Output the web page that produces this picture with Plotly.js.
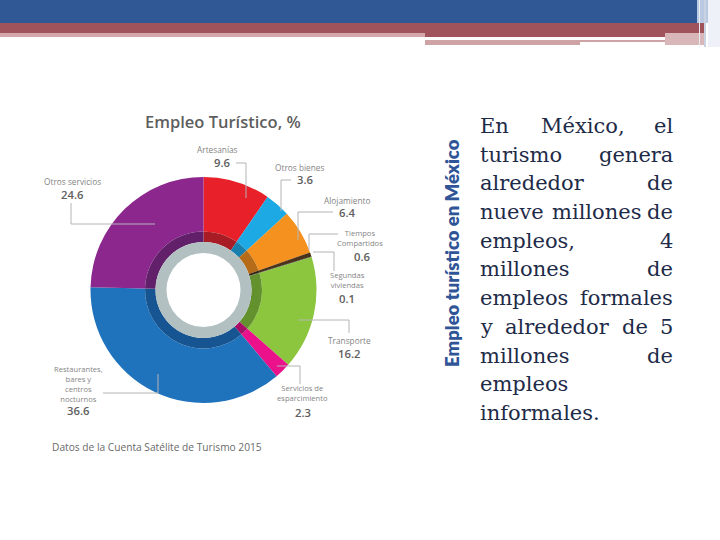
<!DOCTYPE html>
<html>
<head>
<meta charset="utf-8">
<script src="https://cdn.plot.ly/plotly-3.0.1.min.js"></script>
<style>html,body{margin:0;padding:0;background:#fff;}#chart{width:720px;height:540px;}</style>
</head>
<body>
<div id="chart"></div>
<script>
// ---- data ----
const categories = ['Artesanías', 'Otros bienes', 'Alojamiento', 'Tiempos Compartidos', 'Segundas viviendas', 'Transporte', 'Servicios de esparcimiento', 'Restaurantes, bares y centros nocturnos', 'Otros servicios'];
const values = [9.6, 3.6, 6.4, 0.6, 0.1, 16.2, 2.3, 36.6, 24.6];
const labelTexts = ['Artesanías', 'Otros bienes', 'Alojamiento', 'Tiempos<br>Compartidos', 'Segundas<br>viviendas', 'Transporte', 'Servicios de<br>esparcimiento', 'Restaurantes,<br>bares y<br>centros<br>nocturnos', 'Otros servicios'];
const chartTitle = 'Empleo Turístico, %';
const sourceNote = 'Datos de la Cuenta Satélite de Turismo 2015';
const sideTitle = 'Empleo turístico en México';
const paragraphLines = ['En México, el', 'turismo genera', 'alrededor de', 'nueve millones de', 'empleos, 4', 'millones de', 'empleos formales', 'y alrededor de 5', 'millones de', 'empleos', 'informales.'];

// ---- styles ----
const colors = ['#E8202A', '#1CA9E4', '#F5921F', '#4a3319', '#2a2a2a', '#8CC63F', '#EA118B', '#1F72BC', '#8C288D'];
const darkColors = ['#A81D25', '#1780AC', '#B56B17', '#35240f', '#222222', '#62912E', '#A80E66', '#175592', '#62206A'];

const W = 720, H = 540;
const X = p => p / W, Y = p => 1 - p / H;
const cx = 203.5, cy = 290, R = 113, Rd = 58.5, Rg = 48, Rw = 37;
const dom = r => ({x: [X(cx - r), X(cx + r)], y: [Y(cy + r), Y(cy - r)]});

// label placement (pixels): name block centre, number centre, leader polyline
const labelPos = [
  {name: [218, 149], num: [222, 163], lead: [[236, 163], [246, 163], [246, 198]]},
  {name: [299, 167], num: [305, 180], lead: [[291, 180], [281, 180], [281, 211]]},
  {name: [347, 200], num: [347, 213], lead: [[333, 212], [298, 212], [298, 240]]},
  {name: [360, 238], num: [362, 257], lead: [[338, 234], [309, 234], [309, 250]]},
  {name: [347, 280], num: [347, 298], lead: [[334, 271], [334, 252], [313, 252]]},
  {name: [349, 340], num: [349, 353], lead: [[349, 333], [349, 320], [298, 320]]},
  {name: [302, 393], num: [303, 412], lead: [[300, 384], [300, 366], [277, 366]]},
  {name: [78, 384], num: [78, 410], lead: [[103, 393], [158, 393], [158, 374]]},
  {name: [72, 181], num: [72, 194], lead: [[71, 203], [71, 224], [155, 224]]}
];

const traces = [
  {type: 'pie', values: values, labels: categories, sort: false, direction: 'clockwise', rotation: 0,
   hole: Rd / R, domain: dom(R), marker: {colors: colors, line: {width: 0}}, textinfo: 'none', hoverinfo: 'label+value'},
  {type: 'pie', values: values, labels: categories, sort: false, direction: 'clockwise', rotation: 0,
   hole: Rg / Rd, domain: dom(Rd), marker: {colors: darkColors, line: {width: 0}}, textinfo: 'none', hoverinfo: 'skip'},
  {type: 'pie', values: [1], labels: ['anillo'], sort: false, hole: Rw / Rg, domain: dom(Rg),
   marker: {colors: ['#B2C0C2'], line: {width: 0}}, textinfo: 'none', hoverinfo: 'skip'}
];

const shapes = [];
const rect = (x0, y0, x1, y1, c) => shapes.push({type: 'rect', xref: 'paper', yref: 'paper', x0: X(x0), x1: X(x1), y0: Y(y1), y1: Y(y0), fillcolor: c, line: {width: 0}, layer: 'above'});
// decorative header bars
rect(0, 0, 720, 23, '#2F5895');
rect(0, 23, 705, 33, '#A0535A');
rect(0, 33, 425, 37, '#D4A8AB');
rect(425, 33, 705, 37, '#A0535A');
rect(425, 40, 580, 45, '#CEA3A6');
rect(580, 40, 665, 42, '#CEA3A6');
rect(665, 33, 705, 45, '#D9B6B8');
rect(697, 0, 720, 23, '#B9C9E1');
rect(699, 0, 700, 47, '#E8EDF5');
rect(704, 0, 706, 47, '#C9D3E2');
rect(708, 0, 720, 47, '#EEF1F7');

// leader lines
labelPos.forEach(lp => {
  const pts = lp.lead;
  for (let i = 0; i < pts.length - 1; i++) {
    shapes.push({type: 'line', xref: 'paper', yref: 'paper', x0: X(pts[i][0]), y0: Y(pts[i][1]), x1: X(pts[i + 1][0]), y1: Y(pts[i + 1][1]), line: {color: '#B4B4B4', width: 1}, layer: 'above'});
  }
});

const annotations = [];
const ann = (x, y, text, font, extra) => annotations.push(Object.assign({xref: 'paper', yref: 'paper', x: X(x), y: Y(y), text: text, showarrow: false, font: font, xanchor: 'center', yanchor: 'middle', borderpad: 0}, extra || {}));

ann(223, 122, chartTitle, {family: 'Open Sans', size: 16.5, color: '#5E5E5E', weight: 600});
ann(51, 447, sourceNote, {family: 'Open Sans', size: 10.2, color: '#6A6A6A'}, {xanchor: 'left'});
ann(452, 253, sideTitle, {family: 'Lato', size: 18.5, color: '#2F5597', weight: 800}, {textangle: -90});

labelPos.forEach((lp, i) => {
  const multi = labelTexts[i].indexOf('<br>') >= 0;
  ann(lp.name[0], lp.name[1], labelTexts[i], {family: 'Open Sans', size: multi ? 7.6 : 8.3, color: '#858585'});
  ann(lp.num[0], lp.num[1], values[i].toFixed(1), {family: 'Open Sans', size: 11.3, color: '#606060', weight: 600});
});

// justified paragraph (word widths measured with an SVG text node, same renderer as Plotly)
const pSize = 21, pFamily = 'DejaVu Serif';
const pFont = {family: pFamily, size: pSize, color: '#1E2B48'};
const svgNS = 'http://www.w3.org/2000/svg';
const msvg = document.createElementNS(svgNS, 'svg');
msvg.setAttribute('width', '10'); msvg.setAttribute('height', '10');
msvg.style.position = 'absolute'; msvg.style.left = '-1000px';
const mtext = document.createElementNS(svgNS, 'text');
mtext.setAttribute('font-family', pFamily); mtext.setAttribute('font-size', pSize + 'px');
msvg.appendChild(mtext); document.body.appendChild(msvg);
const measure = t => { mtext.textContent = t; return mtext.getComputedTextLength(); };

const pLeft = 479, pRight = 674, pTop = 126, pLine = 28.7;
paragraphLines.forEach((ln, i) => {
  const y = pTop + i * pLine;
  const words = ln.split(' ');
  if (words.length < 2 || i === paragraphLines.length - 1) {
    ann(pLeft, y, ln, pFont, {xanchor: 'left'});
    return;
  }
  const widths = words.map(measure);
  const gap = (pRight - pLeft - widths.reduce((a, b) => a + b, 0)) / (words.length - 1);
  let x = pLeft;
  words.forEach((w, k) => {
    if (k === words.length - 1) ann(pRight, y, w, pFont, {xanchor: 'right'});
    else ann(x, y, w, pFont, {xanchor: 'left'});
    x += widths[k] + gap;
  });
});
document.body.removeChild(msvg);

const layout = {width: W, height: H, margin: {l: 0, r: 0, t: 0, b: 0}, paper_bgcolor: '#ffffff', plot_bgcolor: '#ffffff',
  showlegend: false, shapes: shapes, annotations: annotations};

Plotly.newPlot('chart', traces, layout, {displayModeBar: false, staticPlot: true});
</script>
</body>
</html>
